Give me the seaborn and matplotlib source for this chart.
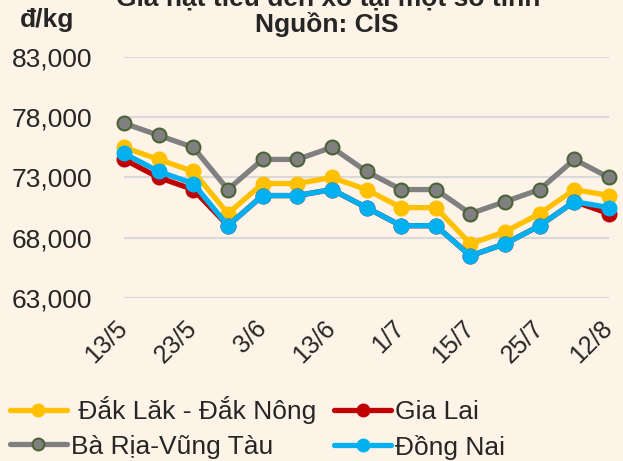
import matplotlib
matplotlib.use("Agg")
import matplotlib.pyplot as plt
import seaborn as sns
import pandas as pd
import numpy as np

sns.set_theme(style="white")
plt.rcParams['font.family'] = ['Liberation Sans', 'DejaVu Sans']

# ---- data ----
points = list(range(15))
xtick_labels = ["13/5", "23/5", "3/6", "13/6", "1/7", "15/7", "25/7", "12/8"]
series_names = [" Đắk Lăk - Đắk Nông", "Gia Lai", "Bà Rịa-Vũng Tàu", "Đồng Nai"]
dak_lak = [75500, 74500, 73500, 70000, 72500, 72500, 73000, 72000, 70500, 70500, 67500, 68500, 70000, 72000, 71500]
gia_lai = [74500, 73000, 72000, 69000, 71500, 71500, 72000, 70500, 69000, 69000, 66500, 67500, 69000, 71000, 70000]
ba_ria = [77500, 76500, 75500, 72000, 74500, 74500, 75500, 73500, 72000, 72000, 70000, 71000, 72000, 74500, 73000]
dong_nai = [75000, 73500, 72500, 69000, 71500, 71500, 72000, 70500, 69000, 69000, 66500, 67500, 69000, 71000, 70500]
yticks = [63000, 68000, 73000, 78000, 83000]

colors = ["#FFC000", "#C00000", "#808080", "#00B0F0"]
edge_colors = ["#FFC000", "#C00000", "#4A6337", "#00B0F0"]

df = pd.DataFrame({
    "x": points * 4,
    "value": dak_lak + gia_lai + ba_ria + dong_nai,
    "series": sum([[n] * len(points) for n in series_names], []),
})

bg = "#FDF3E7"
fig = plt.figure(figsize=(6.23, 4.61), dpi=100, facecolor=bg)
ax = fig.add_axes([124 / 623, 1 - 298 / 461, (609 - 124) / 623, (298 - 57) / 461])
ax.set_facecolor(bg)

for name, c, ec in zip(series_names, colors, edge_colors):
    sub = df[df["series"] == name]
    sns.lineplot(data=sub, x="x", y="value", ax=ax, color=c, linewidth=3.8,
                 marker="o", markersize=10, markerfacecolor=c, markeredgecolor=ec,
                 markeredgewidth=1.5, label=name, clip_on=False, zorder=3)

ax.set_xlim(0, 14)
ax.set_ylim(63000, 83000)
ax.set_yticks(yticks)
ax.set_yticklabels([f"{v:,}" for v in yticks], fontsize=19)
ax.set_xticks(points[::2])
ax.set_xticklabels(xtick_labels, fontsize=18, rotation=45, ha="right",
                   va="center", rotation_mode="anchor")
ax.tick_params(axis="x", length=0, pad=19)
ax.tick_params(axis="y", length=0, pad=23)
ax.grid(axis="y", color="#D9D9D9", linewidth=1.5, zorder=0)
ax.set_axisbelow(True)
for s in ax.spines.values():
    s.set_visible(False)
ax.set_xlabel("")
ax.set_ylabel("")

fig.text(0.527, 1 - 6 / 461, "Giá hạt tiêu đen xô tại một số tỉnh", ha="center",
         va="baseline", fontsize=19, fontweight="bold")
fig.text(0.524, 1 - 32 / 461, "Nguồn: CIS", ha="center", va="baseline",
         fontsize=19, fontweight="bold")
fig.text(47 / 623, 1 - 27 / 461, "đ/kg", ha="center", va="baseline",
         fontsize=19, fontweight="bold")

handles, labels = ax.get_legend_handles_labels()
ax.legend_.remove()
order = [0, 2, 1, 3]
fig.legend([handles[i] for i in order], [labels[i] for i in order], ncol=2,
           loc="upper left", bbox_to_anchor=(10 / 623, 1 - 396 / 461), frameon=False,
           fontsize=19, handlelength=2.15, handletextpad=0.15, columnspacing=0.7,
           labelspacing=0.4, borderpad=0, borderaxespad=0, markerscale=0.85)

fig.savefig("out.png", dpi=100, facecolor=bg)
